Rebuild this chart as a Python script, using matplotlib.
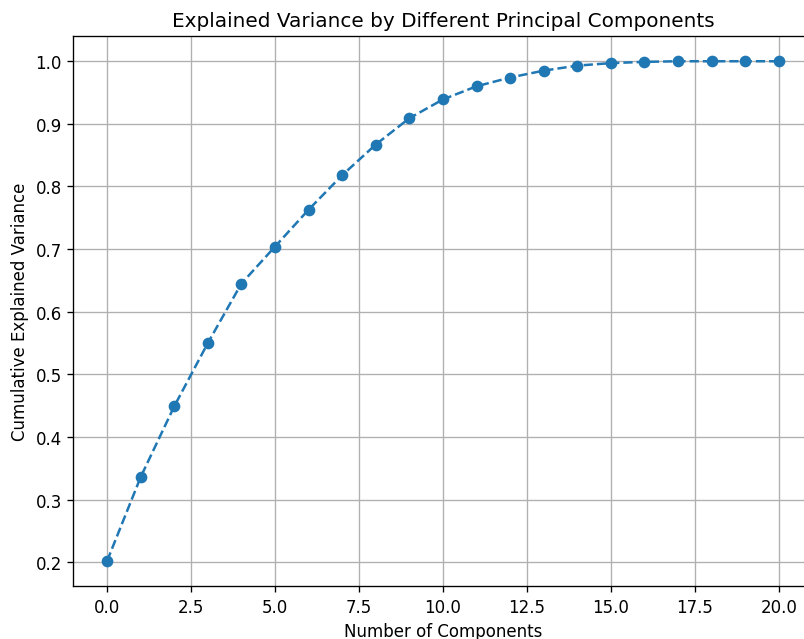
import matplotlib
matplotlib.use("Agg")
import matplotlib.pyplot as plt

components = list(range(21))
cum_variance = [0.202, 0.336, 0.449, 0.550, 0.645, 0.704, 0.763, 0.818, 0.867, 0.909,
                0.939, 0.960, 0.974, 0.985, 0.993, 0.997, 0.999, 1.0, 1.0, 1.0, 1.0]

# 804x640 at 120 dpi
fig = plt.figure(figsize=(6.7, 5.3333), dpi=120)
ax = fig.add_axes([0.0914, 0.0828, 0.919, 0.859])
ax.plot(components, cum_variance, marker="o", linestyle="--")
ax.set_xlabel("Number of Components")
ax.set_ylabel("Cumulative Explained Variance")
ax.set_title("Explained Variance by Different Principal Components", fontsize=12)
ax.grid(True)

fig.savefig("out.png", dpi=120)
